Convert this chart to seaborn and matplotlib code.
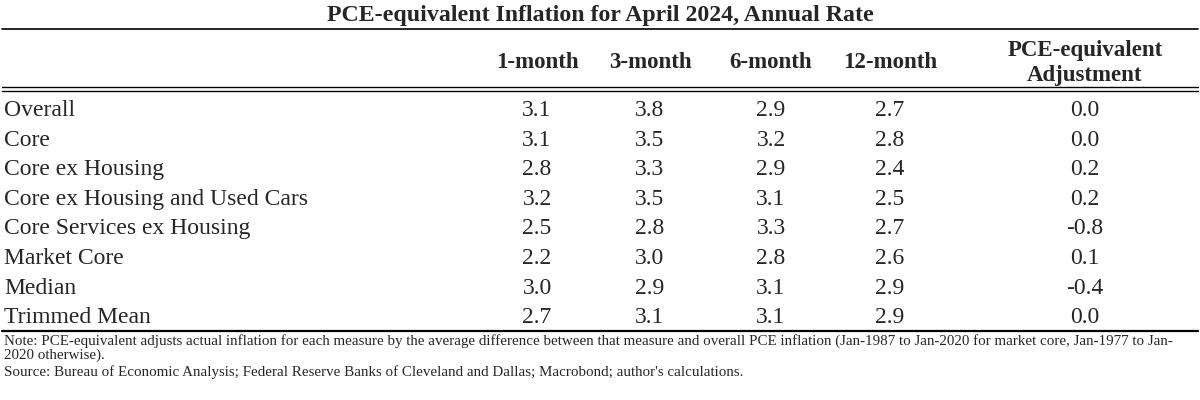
import matplotlib.pyplot as plt
import seaborn as sns
import pandas as pd

# --- data ---
title = "PCE-equivalent Inflation for April 2024, Annual Rate"
measures = [
    "Overall",
    "Core",
    "Core ex Housing",
    "Core ex Housing and Used Cars",
    "Core Services ex Housing",
    "Market Core",
    "Median",
    "Trimmed Mean",
]
col_labels = ["1-month", "3-month", "6-month", "12-month", "PCE-equivalent\nAdjustment"]
one_month = [3.1, 3.1, 2.8, 3.2, 2.5, 2.2, 3.0, 2.7]
three_month = [3.8, 3.5, 3.3, 3.5, 2.8, 3.0, 2.9, 3.1]
six_month = [2.9, 3.2, 2.9, 3.1, 3.3, 2.8, 3.1, 3.1]
twelve_month = [2.7, 2.8, 2.4, 2.5, 2.7, 2.6, 2.9, 2.9]
adjustment = [0.0, 0.0, 0.2, 0.2, -0.8, 0.1, -0.4, 0.0]
note_lines = [
    "Note: PCE-equivalent adjusts actual inflation for each measure by the average difference between that measure "
    "and overall PCE inflation (Jan-1987 to Jan-2020 for market core, Jan-1977 to Jan-",
    "2020 otherwise).",
]
source = "Source: Bureau of Economic Analysis; Federal Reserve Banks of Cleveland and Dallas; Macrobond; author's calculations."

df = pd.DataFrame(
    {c: v for c, v in zip(col_labels, [one_month, three_month, six_month, twelve_month, adjustment])},
    index=measures,
)

sns.set_theme(style="white")
plt.rcParams["font.family"] = ["Liberation Serif", "DejaVu Serif"]

fig = plt.figure(figsize=(12, 4), dpi=100)
ax = fig.add_axes([0, 0, 1, 1])
ax.set_xlim(0, 1200)
ax.set_ylim(400, 0)
ax.axis("off")

col_x = [537, 650, 771, 890, 1085]
row_base0, row_dy = 116, 29.6

ax.text(600, 15, title, ha="center", va="center", fontsize=17.2, fontweight="bold")
ax.plot([2, 1198], [29, 29], color="black", lw=1.2)

for x, lab in zip(col_x, df.columns):
    ax.text(x, 63, lab, ha="center", va="center", fontsize=16.5, fontweight="bold",
            linespacing=1.27)

ax.plot([2, 1198], [87, 87], color="black", lw=1.0)
ax.plot([2, 1198], [90.5, 90.5], color="black", lw=1.0)

for i, name in enumerate(df.index):
    y = row_base0 + i * row_dy
    ax.text(4, y, name, ha="left", va="baseline", fontsize=17)
    for x, val in zip(col_x, df.iloc[i]):
        ax.text(x, y, f"{val:.1f}", ha="center", va="baseline", fontsize=17)

ax.plot([2, 1198], [331, 331], color="black", lw=1.6)

for k, line in enumerate(note_lines):
    ax.text(4, 341 + k * 14.5, line, ha="left", va="center", fontsize=10.8)
ax.text(4, 372, source, ha="left", va="center", fontsize=10.8)

fig.savefig("out.png", dpi=100, facecolor="white")
